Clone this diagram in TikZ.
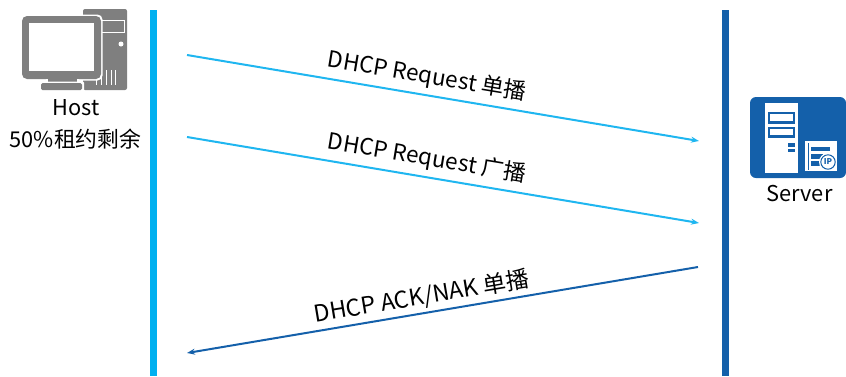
\documentclass[tikz,border=0pt]{standalone}
\usepackage{fontspec}
\setmainfont{Noto Sans CJK SC}
\usetikzlibrary{arrows.meta}
\definecolor{cyanbar}{HTML}{00B0F0}
\definecolor{bluebar}{HTML}{1460AA}
\definecolor{arrowcyan}{HTML}{1FB6F0}
\definecolor{icongrey}{HTML}{7F7F7F}
\tikzset{
  x=1pt,y=-1pt,
  lbl/.style={font=\fontsize{21.8}{26}\selectfont,text=black,inner sep=0pt},
  msglbl/.style={font=\fontsize{22.5}{26}\selectfont,text=black,inner sep=0pt},
  msg/.style={-{Stealth[length=8pt,width=6pt]},line width=2pt},
  grey/.style={fill=icongrey,draw=none},
  wht/.style={fill=white,draw=none},
  srv/.style={fill=bluebar,draw=none}
}
\begin{document}
\begin{tikzpicture}
\useasboundingbox (0,0) rectangle (846,376);
% life lines
\fill[cyanbar] (150,10) rectangle (157,376);
\fill[bluebar] (722,10) rectangle (729,376);
% host icon
\fill[grey,rounded corners=2pt] (83,9) rectangle (127,90);
\draw[white,line width=0.9pt] (101,20.5) rectangle (124,32);
\fill[white] (121,44) circle (2.5);
\foreach \vx in {96,101,106,111,115}{\fill[white] (\vx,70) rectangle (\vx+1.3,85);}
\fill[wht,rounded corners=5pt] (20.5,14.5) rectangle (102.5,80.5);
\fill[grey,rounded corners=5pt] (22,16) rectangle (101,79);
\fill[wht] (29,23) rectangle (94,71);
\fill[wht] (46,79) rectangle (79,83);
\fill[grey] (48,79) rectangle (77,82);
\fill[wht,rounded corners=1pt] (40,81.5) rectangle (84,91);
\fill[grey,rounded corners=1.5pt] (41,83) rectangle (82,90);
% server icon
\fill[srv,rounded corners=6pt] (750,97) rectangle (846,178);
\fill[wht] (765,103) rectangle (798,173);
\draw[bluebar,line width=2.4pt] (769,113) rectangle (794,122.5);
\draw[bluebar,line width=2.4pt] (769,128) rectangle (794,136.5);
\fill[bluebar] (788,143) rectangle (795,146.5);
\fill[bluebar] (788,148.5) rectangle (795,152);
\fill[wht] (805,141) rectangle (837,171);
\fill[bluebar] (807.5,143) rectangle (808.8,170);
\fill[bluebar] (811,147) rectangle (830,151);
\fill[bluebar] (811,153.5) rectangle (823,158.5);
\fill[bluebar] (811,161) rectangle (820,166);
\fill[white] (828,162) circle (9);
\draw[bluebar,line width=1pt] (828,162) circle (7.2);
\node[text=bluebar,inner sep=0pt,font=\fontsize{8}{8}\selectfont\bfseries] (ip) at (828,162) {IP};
% labels
\node[lbl] (host) at (76,107.5) {Host};
\node[lbl] (lease) at (75.5,139) {50\%租约剩余};
\node[lbl] (server) at (799.5,194) {Server};
% connectors
\coordinate (a1) at (187,55); \coordinate (b1) at (699,141);
\coordinate (a2) at (187,137); \coordinate (b2) at (699,223);
\coordinate (a3) at (698,267); \coordinate (b3) at (187,353);
\draw[msg,draw=arrowcyan] (a1) -- (b1);
\draw[msg,draw=arrowcyan] (a2) -- (b2);
\draw[msg,draw=bluebar] (a3) -- (b3);
\node[msglbl,rotate=-9.5] (m1) at (427,76.5) {DHCP Request 单播};
\node[msglbl,rotate=-9.5] (m2) at (427,158.5) {DHCP Request 广播};
\node[msglbl,font=\fontsize{23.2}{26}\selectfont,rotate=9.5] (m3) at (421.5,297) {DHCP ACK/NAK 单播};
\end{tikzpicture}
\end{document}
